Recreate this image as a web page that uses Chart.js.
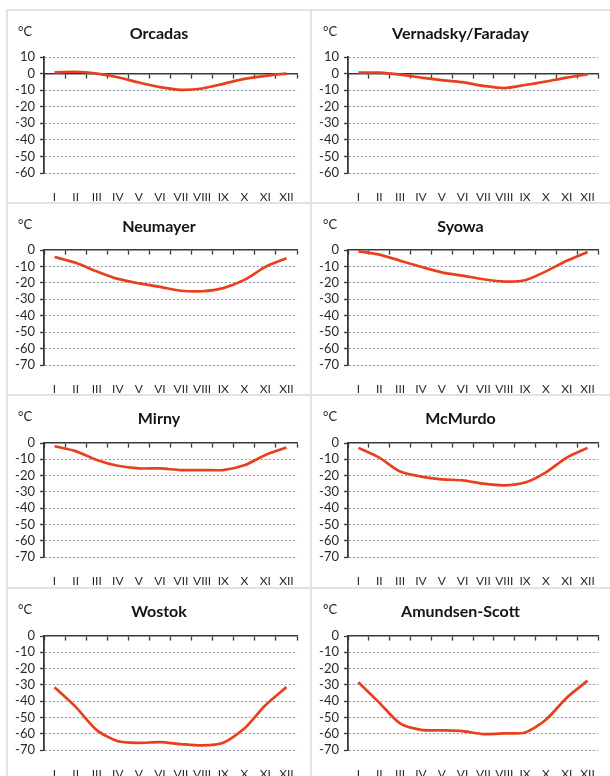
<!DOCTYPE html>
<html>
<head>
<meta charset="utf-8">
<script src="https://cdn.jsdelivr.net/npm/chart.js@4/dist/chart.umd.min.js"></script>
<style>
  html, body { margin: 0; padding: 0; background: #fff; }
  body { width: 610px; height: 776px; position: relative; overflow: hidden; font-family: Lato, "Open Sans", sans-serif; }
  .panel { position: absolute; }
  .panel canvas { position: absolute; left: 0; top: 0; }
  .unit { position: absolute; font-size: 13px; line-height: 13px; color: #222; }
  .title { position: absolute; left: 0; right: 0; text-align: center; font-weight: bold; font-size: 16px; line-height: 16px; color: #141414; }
  .rule { position: absolute; background: #e2e2e2; }
</style>
</head>
<body>
<script>
// Monthly mean air temperature (°C) at Antarctic stations
const months = ['I', 'II', 'III', 'IV', 'V', 'VI', 'VII', 'VIII', 'IX', 'X', 'XI', 'XII'];

const orcadas   = [0.7, 1.1, 0.0, -2.2, -5.4, -8.2, -9.8, -9.0, -6.2, -3.2, -1.4, 0.0];
const vernadsky = [0.6, 0.6, -0.6, -2.4, -3.9, -5.2, -7.4, -8.8, -6.9, -4.8, -2.4, -0.5];
const neumayer  = [-4.3, -7.8, -13.0, -17.6, -20.3, -22.4, -24.8, -25.1, -23.2, -18.2, -10.3, -5.0];
const syowa     = [-0.8, -2.8, -6.5, -10.2, -13.6, -15.6, -17.8, -19.2, -18.4, -13.0, -6.5, -1.2];
const mirny     = [-2.0, -5.0, -10.4, -14.0, -15.6, -15.6, -16.6, -16.6, -16.6, -13.7, -7.3, -2.7];
const mcmurdo   = [-3.0, -9.0, -17.5, -20.6, -22.3, -22.9, -25.0, -26.0, -24.3, -18.0, -9.0, -3.0];
const wostok    = [-31.5, -43.5, -57.8, -64.6, -65.6, -65.2, -66.4, -67.2, -65.5, -56.8, -42.5, -31.4];
const amundsen  = [-28.4, -40.9, -53.7, -57.6, -57.9, -58.4, -60.2, -59.8, -59.2, -51.4, -37.9, -27.4];

const titles = ['Orcadas', 'Vernadsky/Faraday', 'Neumayer', 'Syowa', 'Mirny', 'McMurdo', 'Wostok', 'Amundsen-Scott'];
const series = [orcadas, vernadsky, neumayer, syowa, mirny, mcmurdo, wostok, amundsen];
const yMax   = [10, 10, 0, 0, 0, 0, 0, 0];
const yMin   = [-60, -60, -70, -70, -70, -70, -70, -70];
const unitLabel = '°C';

// Page layout: two columns, four rows of framed panels
const cols = [
  { left: 7,   width: 304, plotLeft: 37, plotRight: 290, unitX: 11 },
  { left: 311, width: 299, plotLeft: 37, plotRight: 287, unitX: 12 }
];
const rows = [
  { top: 10,  height: 193, plotTop: 47, plotBottom: 163 },
  { top: 203, height: 192, plotTop: 47, plotBottom: 162 },
  { top: 395, height: 193, plotTop: 48, plotBottom: 162 },
  { top: 588, height: 188, plotTop: 48, plotBottom: 162 }
];

const LINE = '#e8401c';
const AXIS = '#383838';
const GRID = '#8e94a8';
const TEXT = '#2a2a2a';
const X_AXIS_H = 28;

// frame rules
function rule(x, y, w, h) {
  const d = document.createElement('div');
  d.className = 'rule';
  Object.assign(d.style, { left: x + 'px', top: y + 'px', width: w + 'px', height: h + 'px' });
  document.body.appendChild(d);
}
rule(6, 9, 604, 2);
rows.slice(1).forEach(r => rule(6, r.top - 1, 604, 2));
rule(6, 9, 2, 767);
rule(310, 9, 2, 767);

series.forEach((values, i) => {
  const col = cols[i % 2];
  const row = rows[Math.floor(i / 2)];
  const canvasH = Math.max(row.height, row.plotBottom + X_AXIS_H + 2);
  const panel = document.createElement('div');
  panel.className = 'panel';
  Object.assign(panel.style, { left: col.left + 'px', top: row.top + 'px', width: col.width + 'px', height: row.height + 'px' });
  const canvas = document.createElement('canvas');
  canvas.width = col.width;
  canvas.height = canvasH;
  panel.appendChild(canvas);

  const unit = document.createElement('div');
  unit.className = 'unit';
  unit.textContent = unitLabel;
  Object.assign(unit.style, { left: col.unitX + 'px', top: '15px' });
  panel.appendChild(unit);

  const title = document.createElement('div');
  title.className = 'title';
  title.textContent = titles[i];
  title.style.top = '15px';
  panel.appendChild(title);

  document.body.appendChild(panel);

  new Chart(canvas, {
    type: 'line',
    data: {
      labels: months,
      datasets: [{
        data: values,
        xAxisID: 'x',
        yAxisID: 'y',
        borderColor: LINE,
        borderWidth: 2.7,
        pointRadius: 0,
        tension: 0.25,
        fill: false
      }]
    },
    options: {
      responsive: false,
      animation: false,
      events: [],
      layout: {
        autoPadding: false,
        padding: {
          left: 0,
          top: row.plotTop,
          right: col.width - col.plotRight,
          bottom: canvasH - row.plotBottom - X_AXIS_H
        }
      },
      plugins: { legend: { display: false }, title: { display: false }, tooltip: { enabled: false } },
      scales: {
        x: {
          type: 'category',
          position: 'bottom',
          offset: true,
          grid: { display: false },
          border: { display: false },
          ticks: { color: TEXT, font: { family: 'Lato', size: 12 }, padding: 9, maxRotation: 0, autoSkip: false },
          afterFit(s) { s.height = X_AXIS_H; }
        },
        // axis line crossing at 0 °C, with tick marks between months
        x0: {
          type: 'category',
          position: { y: 0 },
          offset: true,
          grid: { offset: true, drawOnChartArea: false, drawTicks: true, tickLength: 4, tickColor: AXIS, tickWidth: 1.3 },
          border: { display: true, color: AXIS, width: 1.6 },
          ticks: { display: false }
        },
        y: {
          position: 'left',
          min: yMin[i],
          max: yMax[i],
          ticks: { stepSize: 10, autoSkip: false, color: TEXT, font: { family: 'Lato', size: 13 }, padding: 5 },
          grid: {
            color: c => (c.tick && c.tick.value === 0) ? 'rgba(0,0,0,0)' : GRID,
            lineWidth: 1,
            tickColor: AXIS,
            tickLength: 4,
            tickWidth: 1.3
          },
          border: { display: true, color: AXIS, width: 1.8, dash: [2, 2] },
          afterFit(s) { s.width = col.plotLeft; }
        }
      }
    }
  });
});
</script>
</body>
</html>
